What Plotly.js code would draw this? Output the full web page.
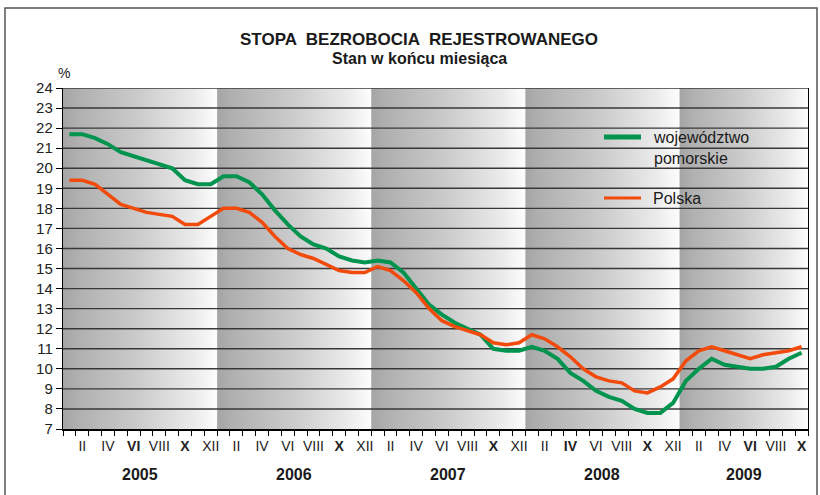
<!DOCTYPE html>
<html><head><meta charset="utf-8">
<script src="https://cdn.plot.ly/plotly-3.0.1.min.js"></script>
<style>html,body{margin:0;padding:0;background:#fff}</style>
</head><body><div id="chart" style="width:820px;height:495px"></div>
<script>
// ---- data ----
const years = ['2005', '2006', '2007', '2008', '2009'];
const monthNames = ['I','II','III','IV','V','VI','VII','VIII','IX','X','XI','XII'];
const monthsPerYear = [12, 12, 12, 12, 10];
const pomorskie = [
  21.7, 21.7, 21.5, 21.2, 20.8, 20.6, 20.4, 20.2, 20.0, 19.4, 19.2, 19.2,
  19.6, 19.6, 19.3, 18.7, 17.9, 17.2, 16.6, 16.2, 16.0, 15.6, 15.4, 15.3,
  15.4, 15.3, 14.8, 14.0, 13.2, 12.7, 12.3, 12.0, 11.7, 11.0, 10.9, 10.9,
  11.1, 10.9, 10.5, 9.8, 9.4, 8.9, 8.6, 8.4, 8.0, 7.8, 7.8, 8.3,
  9.4, 10.0, 10.5, 10.2, 10.1, 10.0, 10.0, 10.1, 10.5, 10.8
];
const polska = [
  19.4, 19.4, 19.2, 18.7, 18.2, 18.0, 17.8, 17.7, 17.6, 17.2, 17.2, 17.6,
  18.0, 18.0, 17.8, 17.3, 16.6, 16.0, 15.7, 15.5, 15.2, 14.9, 14.8, 14.8,
  15.1, 14.9, 14.4, 13.8, 13.0, 12.4, 12.1, 11.9, 11.7, 11.3, 11.2, 11.3,
  11.7, 11.5, 11.1, 10.6, 10.0, 9.6, 9.4, 9.3, 8.9, 8.8, 9.1, 9.5,
  10.4, 10.9, 11.1, 10.9, 10.7, 10.5, 10.7, 10.8, 10.9, 11.1
];
const seriesNames = ['województwo<br>pomorskie', 'Polska'];
const yTickValues = [7,8,9,10,11,12,13,14,15,16,17,18,19,20,21,22,23,24];
const boldMonthLabels = ['2005-VI','2005-X','2006-X','2007-X','2008-IV','2008-X','2009-VI','2009-X'];

// ---- build ----
const idx = [], tickvals = [], ticktext = [], bands = [];
let k = 0;
years.forEach((y, yi) => {
  const start = k;
  for (let m = 0; m < monthsPerYear[yi]; m++) {
    idx.push(k);
    if (m % 2 === 1) {
      tickvals.push(k);
      const lab = monthNames[m];
      ticktext.push(boldMonthLabels.includes(y + '-' + lab) ? '<b>' + lab + '</b>' : lab);
    }
    k++;
  }
  bands.push({year: y, x0: start - 0.5, x1: k - 0.5});
});
const xMin = -0.5, xMax = k - 0.5;
const yMin = yTickValues[0], yMax = yTickValues[yTickValues.length - 1];

const bandScale = [[0, '#a5a5a5'], [0.1, '#b0b0b0'], [0.5, '#cccccc'], [0.85, '#ebebeb'], [1, '#fdfdfd']];
const traces = [];
bands.forEach(b => {
  traces.push({
    x: [b.x0, b.x1, b.x1, b.x0, b.x0], y: [yMin, yMin, yMax, yMax, yMin],
    mode: 'lines', line: {width: 0, color: 'rgba(0,0,0,0)'},
    fill: 'toself', fillcolor: '#cccccc',
    fillgradient: {type: 'horizontal', colorscale: bandScale},
    hoverinfo: 'skip', showlegend: false
  });
});
const gx = [], gy = [];
yTickValues.slice(1).forEach(v => { gx.push(xMin, xMax, null); gy.push(v, v, null); });
traces.push({x: gx, y: gy, mode: 'lines', line: {color: '#383838', width: 1.4},
  hoverinfo: 'skip', showlegend: false});

const GREEN = '#00944f', ORANGE = '#f24a0a';
traces.push({x: idx, y: pomorskie, mode: 'lines', name: seriesNames[0],
  line: {color: GREEN, width: 4}, showlegend: false});
traces.push({x: idx, y: polska, mode: 'lines', name: seriesNames[1],
  line: {color: ORANGE, width: 3.5}, showlegend: false});

// pixel helpers for decorations
const L = 63, R = 808, T = 88, B = 429;
const px = p => (p - L) / (R - L);
const py = p => (B - p) / (B - T);
const FONT = 'Liberation Sans, Arial, sans-serif';

const annotations = [
  {text: '<b>STOPA  BEZROBOCIA  REJESTROWANEGO</b>', x: px(419), y: py(40), xref: 'paper', yref: 'paper',
   showarrow: false, font: {family: FONT, size: 17, color: '#1a1a1a'}, xanchor: 'center', yanchor: 'middle'},
  {text: '<b>Stan w końcu miesiąca</b>', x: px(419), y: py(58), xref: 'paper', yref: 'paper',
   showarrow: false, font: {family: FONT, size: 16, color: '#1a1a1a'}, xanchor: 'center', yanchor: 'middle'},
  {text: '%', x: px(64), y: py(73), xref: 'paper', yref: 'paper', showarrow: false,
   font: {family: FONT, size: 14, color: '#222'}, xanchor: 'center', yanchor: 'middle'},
  {text: seriesNames[0], x: px(651), y: py(127), xref: 'paper', yref: 'paper', showarrow: false,
   align: 'left', xanchor: 'left', yanchor: 'top', font: {family: FONT, size: 16, color: '#1a1a1a'}},
  {text: seriesNames[1], x: px(651), y: py(198), xref: 'paper', yref: 'paper', showarrow: false,
   align: 'left', xanchor: 'left', yanchor: 'middle', font: {family: FONT, size: 16, color: '#1a1a1a'}}
];
bands.forEach(b => annotations.push({
  text: '<b>' + b.year + '</b>', x: (b.x0 + b.x1) / 2, xref: 'x', y: py(475), yref: 'paper',
  showarrow: false, xanchor: 'center', yanchor: 'middle', font: {family: FONT, size: 16, color: '#1a1a1a'}
}));

const shapes = [
  {type: 'line', xref: 'paper', yref: 'paper', x0: px(604), x1: px(641), y0: py(137), y1: py(137),
   line: {color: GREEN, width: 5}},
  {type: 'line', xref: 'paper', yref: 'paper', x0: px(604), x1: px(641), y0: py(198), y1: py(198),
   line: {color: ORANGE, width: 3}},
  {type: 'path', xref: 'paper', yref: 'paper',
   path: `M ${px(5)} ${py(498)} L ${px(5)} ${py(8)} L ${px(817)} ${py(8)} L ${px(817)} ${py(498)}`,
   line: {color: '#555', width: 1.5}}
];

const layout = {
  width: 820, height: 495,
  margin: {l: L, r: 820 - R, t: T, b: 495 - B},
  paper_bgcolor: '#fff', plot_bgcolor: '#fff',
  showlegend: false,
  xaxis: {range: [xMin, xMax], tickmode: 'array', tickvals: tickvals, ticktext: ticktext,
    ticks: 'outside', ticklen: 4, tickcolor: 'rgba(0,0,0,0)',
    minor: {ticks: 'outside', ticklen: 5, tickcolor: '#000', tickwidth: 1, tickmode: 'linear', tick0: -0.5, dtick: 1},
    showline: true, linecolor: '#000', linewidth: 1.5, showgrid: false, zeroline: false,
    tickfont: {family: FONT, size: 14, color: '#222'}, fixedrange: true},
  yaxis: {range: [yMin, yMax], tickmode: 'array', tickvals: yTickValues,
    ticks: 'outside', ticklen: 6, tickcolor: '#000',
    showline: true, linecolor: '#000', linewidth: 1.2, mirror: true, showgrid: false, zeroline: false,
    tickfont: {family: FONT, size: 15, color: '#222'}, fixedrange: true},
  annotations: annotations,
  shapes: shapes
};
Plotly.newPlot('chart', traces, layout, {displayModeBar: false, staticPlot: true});
</script></body></html>
